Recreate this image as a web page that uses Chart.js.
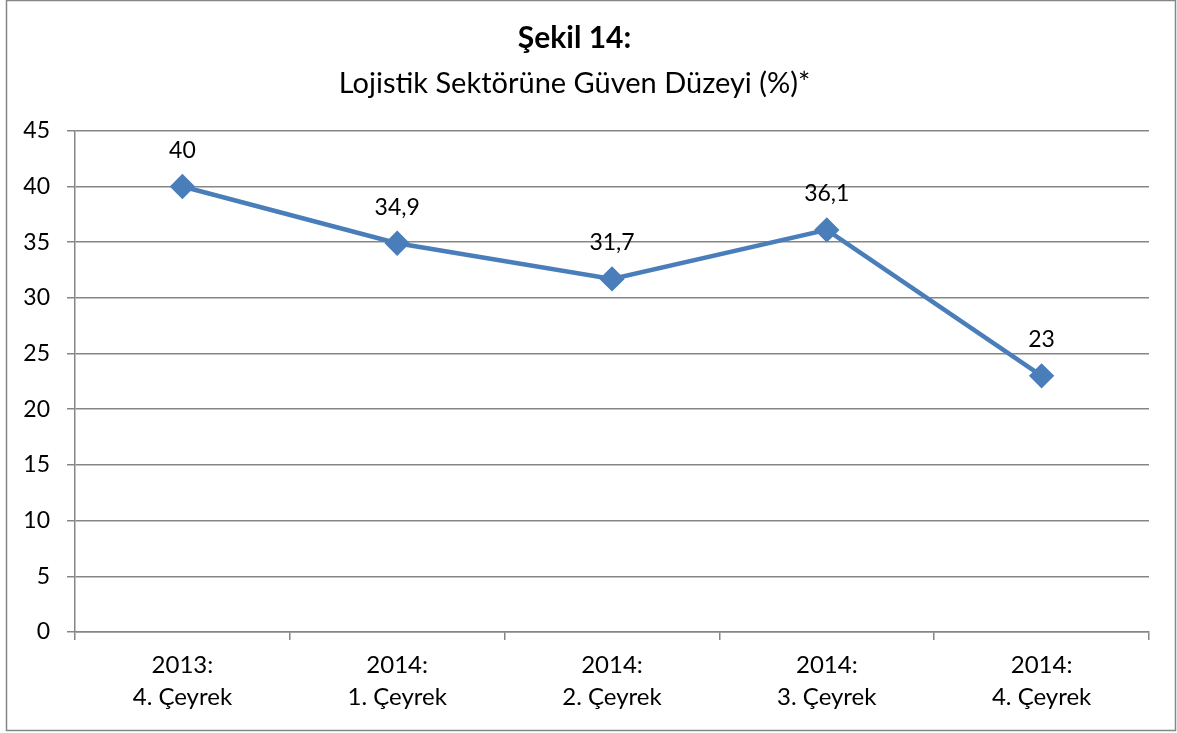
<!DOCTYPE html>
<html>
<head>
<meta charset="utf-8">
<script src="https://cdn.jsdelivr.net/npm/chart.js@4/dist/chart.umd.min.js"></script>
<style>
  html, body { margin: 0; padding: 0; background: #fff; }
  #wrap { width: 1177px; height: 733px; }
</style>
</head>
<body>
<div id="wrap"><canvas id="chart" width="1177" height="733"></canvas></div>
<script>
var categories = [["2013:", "4. Çeyrek"], ["2014:", "1. Çeyrek"], ["2014:", "2. Çeyrek"], ["2014:", "3. Çeyrek"], ["2014:", "4. Çeyrek"]];
var guvenDuzeyi = [40, 34.9, 31.7, 36.1, 23];
var yTicks = [0, 5, 10, 15, 20, 25, 30, 35, 40, 45];

var fontName = "Lato, 'Open Sans', sans-serif";
var gray = '#868686';

// outer frame
var framePlugin = {
    id: 'frame',
    beforeDraw: function(chart){
        var c = chart.ctx;
        c.save();
        c.fillStyle = '#fff';
        c.fillRect(0, 0, chart.width, chart.height);
        c.strokeStyle = gray;
        c.lineWidth = 1.5;
        c.strokeRect(6.5, 0.5, 1169, 730);
        c.restore();
    }
};

// value labels above the points
var valueLabels = {
    id: 'valueLabels',
    afterDatasetsDraw: function(chart){
        var c = chart.ctx;
        var meta = chart.getDatasetMeta(0);
        c.save();
        c.font = '23px ' + fontName;
        c.fillStyle = '#000';
        c.textAlign = 'center';
        c.textBaseline = 'middle';
        meta.data.forEach(function(pt, i){
            var txt = String(guvenDuzeyi[i]).replace('.', ',');
            c.fillText(txt, pt.x, pt.y - 36);
        });
        c.restore();
    }
};

var ctx = document.getElementById('chart').getContext('2d');
var myChart = new Chart(ctx, {
    type: 'line',
    data: {
        labels: categories,
        datasets: [{
            label: 'Güven Düzeyi',
            data: guvenDuzeyi,
            borderColor: '#4A7EBB',
            backgroundColor: '#4A7EBB',
            borderWidth: 4.5,
            pointStyle: 'rectRot',
            pointRadius: 9.5,
            pointHoverRadius: 9.5,
            tension: 0
        }]
    },
    options: {
        responsive: false,
        animation: false,
        layout: { padding: { left: 0, right: 28, top: 0, bottom: 0 } },
        plugins: {
            legend: { display: false },
            tooltip: { enabled: false },
            title: {
                display: true,
                text: 'Şekil 14:',
                color: '#000',
                font: { family: fontName, size: 30, weight: 'bold', lineHeight: 1.2 },
                padding: { top: 20, bottom: 0 }
            },
            subtitle: {
                display: true,
                text: 'Lojistik Sektörüne Güven Düzeyi (%)*',
                color: '#000',
                font: { family: fontName, size: 29, lineHeight: 1.2 },
                padding: { top: 10, bottom: 30 }
            }
        },
        scales: {
            x: {
                offset: true,
                grid: {
                    offset: true,
                    drawOnChartArea: false,
                    drawTicks: true,
                    tickLength: 8,
                    color: gray,
                    lineWidth: 1.5
                },
                border: { color: gray, width: 1.5 },
                ticks: {
                    color: '#000',
                    font: { family: fontName, size: 24, lineHeight: 1.33 },
                    padding: 9,
                    maxRotation: 0
                },
                afterFit: function(scale){ scale.height = 101; }
            },
            y: {
                min: 0,
                max: 45,
                afterBuildTicks: function(scale){
                    scale.ticks = yTicks.map(function(v){ return { value: v }; });
                },
                grid: {
                    color: gray,
                    lineWidth: 1.5,
                    tickLength: 8
                },
                border: { color: gray, width: 1.5 },
                ticks: {
                    color: '#000',
                    font: { family: fontName, size: 23 },
                    padding: 17
                },
                afterFit: function(scale){ scale.width = 75; }
            }
        }
    },
    plugins: [framePlugin, valueLabels]
});
</script>
</body>
</html>
